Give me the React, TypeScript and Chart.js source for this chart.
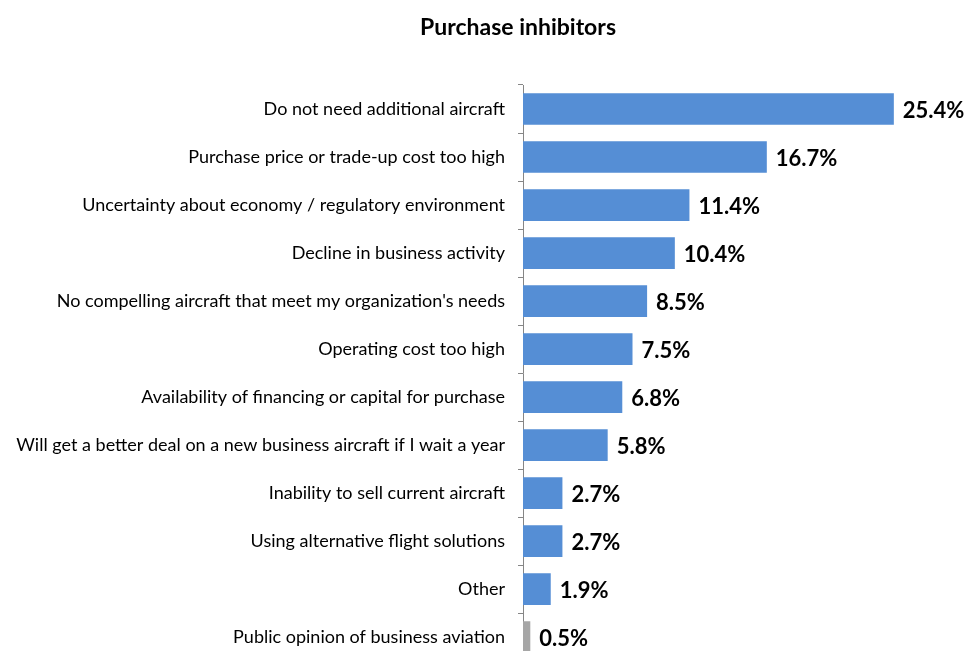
import React, { useEffect, useRef } from "react";
import { Chart, registerables } from "chart.js";
Chart.register(...registerables);

const TITLE = "Purchase inhibitors";
const categories = [
  "Do not need additional aircraft",
  "Purchase price or trade-up cost too high",
  "Uncertainty about economy / regulatory environment",
  "Decline in business activity",
  "No compelling aircraft that meet my organization's needs",
  "Operating cost too high",
  "Availability of financing or capital for purchase",
  "Will get a better deal on a new business aircraft if I wait a year",
  "Inability to sell current aircraft",
  "Using alternative flight solutions",
  "Other",
  "Public opinion of business aviation",
];
const values = [25.4, 16.7, 11.4, 10.4, 8.5, 7.5, 6.8, 5.8, 2.7, 2.7, 1.9, 0.5];
const barColors = [
  "#558ED5", "#558ED5", "#558ED5", "#558ED5", "#558ED5", "#558ED5",
  "#558ED5", "#558ED5", "#558ED5", "#558ED5", "#558ED5", "#A6A6A6",
];
const X_MAX = 30;
const FONT = "Lato, 'Open Sans', sans-serif";

export default function App() {
  const ref = useRef<HTMLCanvasElement>(null);
  useEffect(() => {
    if (!ref.current) return;
    const labelPlugin = {
      id: "extras",
      afterDraw(chart: any) {
        const ctx = chart.ctx;
        ctx.save();
        ctx.fillStyle = "#000";
        ctx.font = `bold 23px ${FONT}`;
        ctx.textAlign = "center";
        ctx.textBaseline = "middle";
        ctx.fillText(TITLE, 518, 28);
        const meta = chart.getDatasetMeta(0);
        ctx.font = `bold 22px ${FONT}`;
        ctx.textAlign = "left";
        meta.data.forEach((bar: any, i: number) => {
          ctx.fillText(values[i].toFixed(1) + "%", bar.x + 9, bar.y + 2);
        });
        ctx.restore();
      },
    };
    const chart = new Chart(ref.current, {
      type: "bar",
      data: {
        labels: categories,
        datasets: [
          {
            data: values,
            backgroundColor: barColors,
            barPercentage: 0.66,
            categoryPercentage: 1,
          },
        ],
      },
      options: {
        indexAxis: "y",
        animation: false,
        responsive: false,
        layout: { padding: { top: 85, right: 6, bottom: 7, left: 0 } },
        plugins: { legend: { display: false }, tooltip: { enabled: false }, title: { display: false } },
        scales: {
          x: { display: false, min: 0, max: X_MAX },
          y: {
            afterFit(scale: any) {
              scale.width = 523;
            },
            border: { display: true, color: "#868686", width: 1 },
            grid: { drawOnChartArea: false, tickLength: 5, color: "#868686", offset: true },
            ticks: { color: "#000", font: { family: FONT, size: 18 }, padding: 13 },
          },
        },
      },
      plugins: [labelPlugin],
    });
    return () => chart.destroy();
  }, []);
  return (
    <div style={{ position: "absolute", left: 0, top: 0 }}>
      <canvas ref={ref} width={967} height={685} style={{ display: "block", width: 967, height: 685 }} />
    </div>
  );
}
